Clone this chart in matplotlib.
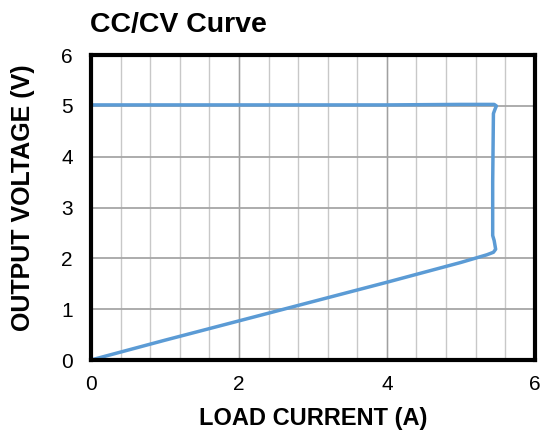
import matplotlib.pyplot as plt
import numpy as np

plt.rcParams['font.family'] = ['Liberation Sans', 'DejaVu Sans']

# CC/CV curve points (load current A, output voltage V)
current = [0.0, 1.0, 2.0, 3.0, 4.0, 5.0, 5.35, 5.44, 5.47, 5.45, 5.43,
           5.43, 5.44, 5.46, 5.48, 5.45, 5.0, 4.0, 2.0, 0.0]
voltage = [0.0, 0.39, 0.77, 1.15, 1.53, 1.92, 2.07, 2.12, 2.18, 2.35, 2.45,
           3.5, 4.85, 4.93, 5.0, 5.03, 5.03, 5.02, 5.02, 5.02]

x_ticks = [0, 2, 4, 6]
y_ticks = [0, 1, 2, 3, 4, 5, 6]

fig = plt.figure(figsize=(5.43, 4.34), dpi=100)
ax = fig.add_axes([0.1676, 0.1705, 0.8174, 0.7025])

# grid: minor verticals every 0.4, darker at major x ticks
for gx in np.arange(0.4, 6.0, 0.4):
    ax.axvline(gx, color='#c8c8c8', lw=1.0, zorder=1)
for gx in [2, 4]:
    ax.axvline(gx, color='#a0a0a0', lw=1.0, zorder=1)
for gy in y_ticks[1:-1]:
    ax.axhline(gy, color='#a6a6a6', lw=1.3, zorder=1)

ax.plot(current, voltage, color='#5B9BD5', lw=2.5, solid_joinstyle='round',
        solid_capstyle='round', zorder=3, clip_on=False)

ax.set_xlim(0, 6)
ax.set_ylim(0, 6)
ax.set_xticks(x_ticks)
ax.set_yticks(y_ticks)
ax.tick_params(length=0, labelsize=15, pad=11)
ax.tick_params(axis='y', pad=13)
for s in ax.spines.values():
    s.set_linewidth(3)
    s.set_color('black')
    s.set_zorder(4)

ax.set_xlabel('LOAD CURRENT (A)', fontsize=17, fontweight='bold', va='center')
ax.xaxis.set_label_coords(0.5, -0.193)
ax.set_ylabel('OUTPUT VOLTAGE (V)', fontsize=18, fontweight='bold', va='center')
ax.yaxis.set_label_coords(-0.153, 0.534)
fig.text(0.166, 0.942, 'CC/CV Curve', fontsize=20.5, fontweight='bold',
         ha='left', va='center')

fig.savefig('out.png', dpi=100)
